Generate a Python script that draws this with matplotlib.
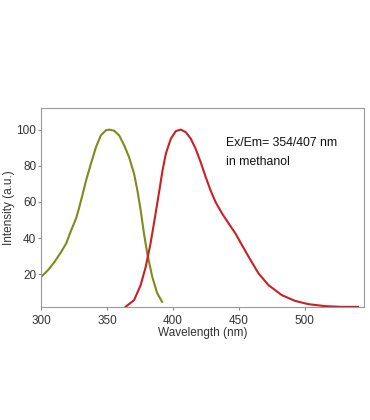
import numpy as np
import matplotlib.pyplot as plt

# excitation spectrum
ex_wl = [300.2, 305.3, 310.3, 315.3, 319.1, 322.9, 326.6, 329.1, 331.7, 334.2,
         337.9, 341.7, 345.4, 349.2, 351.8, 355.5, 359.3, 363.1, 366.8, 370.6,
         373.1, 375.6, 378.1, 380.6, 384.4, 388.2, 391.9]
ex_int = [18.5, 22.2, 26.8, 32.3, 37, 44.3, 50.8, 57.2, 64.6, 71.9,
          81.2, 90.3, 96.8, 99.6, 100, 99.4, 96.8, 91.3, 84.8, 75.6,
          66.4, 55.4, 42.5, 31.4, 18.5, 9.3, 4.7]

# emission spectrum
em_wl = [364.3, 370.6, 375.6, 379.4, 383.1, 386.9, 389.7, 392.2, 394.7, 398.5,
         402.3, 406, 409.8, 413.6, 417.3, 421.1, 424.9, 428.6, 432.4, 437.4,
         442.4, 447.5, 452.5, 457.5, 465, 472.6, 482.6, 492.7, 502.7, 515.3,
         527.8, 540.4]
em_int = [2, 5.6, 13.9, 24, 37, 53.5, 66, 77.5, 86.7, 95,
          99.2, 100, 98.6, 95, 89.4, 82, 73.8, 66.4, 59.9, 53.5,
          48, 42.5, 36, 29.6, 20.4, 13.9, 8.4, 5.2, 3.4, 2.3,
          1.9, 1.9]

xticks = [300, 350, 400, 450, 500]
yticks = [20, 40, 60, 80, 100]

plt.rcParams['font.family'] = ['Liberation Sans', 'DejaVu Sans']

fig = plt.figure(figsize=(3.7, 4.2), dpi=100)
ax = fig.add_axes([0.1108, 0.269, 0.8730, 0.474])

ax.plot(ex_wl, ex_int, color="#7f8a1c", lw=1.5, solid_joinstyle="round")
ax.plot(em_wl, em_int, color="#cc1f24", lw=1.5, solid_joinstyle="round")

ax.set_xlim(300, 545)
ax.set_ylim(1.8, 112)
ax.set_xticks(xticks)
ax.set_yticks(yticks)
ax.tick_params(length=2.5, width=0.8, color="#888888", labelsize=8.5,
               labelcolor="#333333")
ax.tick_params(axis="x", pad=3)
ax.tick_params(axis="y", pad=1)
for s in ax.spines.values():
    s.set_color("#999999")
    s.set_linewidth(0.8)

ax.set_xlabel("Wavelength (nm)", fontsize=8.5, color="#333333", labelpad=0)
ax.set_ylabel("Intensity (a.u.)", fontsize=8.5, color="#333333", labelpad=1)

ax.text(440.5, 92.4, "Ex/Em= 354/407 nm", fontsize=8.8,
        color="#111111", va="center", ha="left")
ax.text(440.5, 82.0, "in methanol", fontsize=8.8,
        color="#111111", va="center", ha="left")

fig.savefig("out.png", dpi=100)
